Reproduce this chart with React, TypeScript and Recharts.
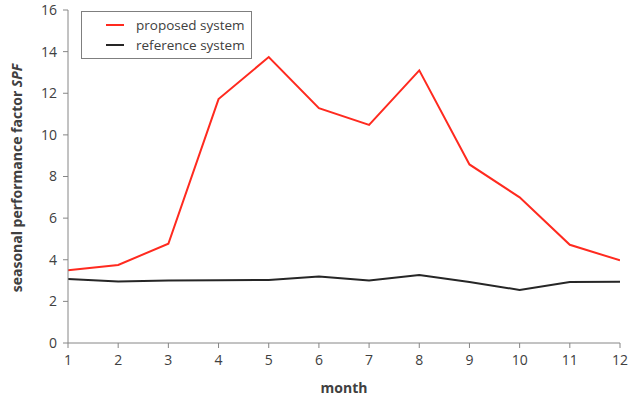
import React from 'react';
import { LineChart, Line, XAxis, YAxis, Legend } from 'recharts';

const months = [1, 2, 3, 4, 5, 6, 7, 8, 9, 10, 11, 12];
const proposedSystem = [3.5, 3.75, 4.77, 11.72, 13.74, 11.28, 10.48, 13.1, 8.58, 7.0, 4.72, 3.97];
const referenceSystem = [3.08, 2.96, 3.0, 3.02, 3.03, 3.19, 3.0, 3.27, 2.93, 2.55, 2.93, 2.94];
const yTicks = [0, 2, 4, 6, 8, 10, 12, 14, 16];

const chartData = months.map((m, i) => ({
    month: m,
    proposed: proposedSystem[i],
    reference: referenceSystem[i],
}));

const FONT = '"Open Sans", "Liberation Sans", sans-serif';
const AXIS = '#868686';
const TEXT = '#404040';

function LegendBox(props: any) {
    const items = props.payload || [];
    return (
        <div
            style={{
                width: 171,
                height: 48,
                border: '1px solid #7f7f7f',
                background: '#fff',
                fontFamily: FONT,
                fontSize: 13.5,
                color: TEXT,
                boxSizing: 'border-box',
                paddingTop: 3,
            }}
        >
            {items.map((it: any) => (
                <div key={it.value} style={{ display: 'flex', alignItems: 'center', height: 20 }}>
                    <span style={{ display: 'inline-block', width: 18, height: 2, background: it.color, marginLeft: 24, marginRight: 12 }} />
                    <span>{it.value}</span>
                </div>
            ))}
        </div>
    );
}

function YLabel() {
    return (
        <text
            x={22}
            y={178}
            transform="rotate(-90 22 178)"
            textAnchor="middle"
            fill={TEXT}
            fontFamily={FONT}
            fontSize={14}
            fontWeight="bold"
        >
            seasonal performance factor <tspan fontStyle="italic">SPF</tspan>
        </text>
    );
}

export default function App() {
    return (
        <div style={{ position: 'fixed', left: 0, top: 0, width: 636, height: 396, background: '#fff' }}>
            <LineChart width={636} height={396} data={chartData} margin={{ top: 10, right: 16, bottom: 23, left: 28 }}>
                <XAxis
                    dataKey="month"
                    type="number"
                    domain={[1, 12]}
                    ticks={months}
                    allowDataOverflow
                    height={30}
                    stroke={AXIS}
                    tickSize={5}
                    tick={{ fill: TEXT, fontSize: 14, fontFamily: FONT, dy: 5 }}
                    label={{ value: 'month', position: 'insideBottom', offset: -20, fill: TEXT, fontSize: 14, fontWeight: 'bold', fontFamily: FONT }}
                />
                <YAxis
                    domain={[0, 16]}
                    ticks={yTicks}
                    width={40}
                    stroke={AXIS}
                    tickSize={5}
                    tick={{ fill: TEXT, fontSize: 14, fontFamily: FONT, dx: -4 }}
                    label={<YLabel />}
                />
                <Legend
                    layout="horizontal"
                    verticalAlign="middle"
                    align="center"
                    content={<LegendBox />}
                    wrapperStyle={{ position: 'absolute', left: 81, top: 11, width: 171, height: 48 }}
                />
                <Line
                    dataKey="proposed"
                    name="proposed system"
                    stroke="#ff2a1f"
                    strokeWidth={2}
                    dot={false}
                    isAnimationActive={false}
                />
                <Line
                    dataKey="reference"
                    name="reference system"
                    stroke="#262626"
                    strokeWidth={2}
                    dot={false}
                    isAnimationActive={false}
                />
            </LineChart>
        </div>
    );
}
